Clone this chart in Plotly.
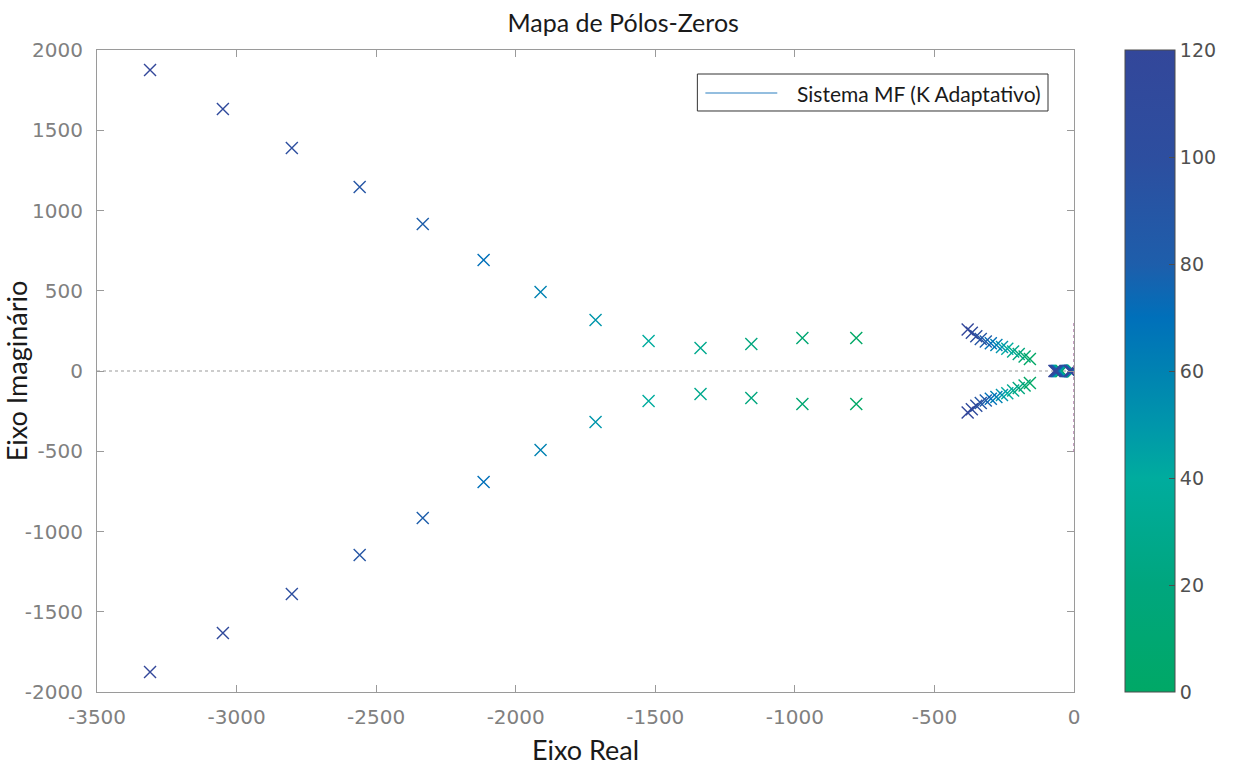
import plotly.graph_objects as go

# Gain values (one set of closed-loop poles per K)
K = [0, 10, 20, 30, 40, 50, 60, 70, 80, 90, 100, 110, 120]

# Dominant complex pair (upper half; lower is the conjugate)
big_re = [-780, -973, -1156, -1338, -1524, -1714, -1911, -2115, -2333, -2559, -2802, -3049, -3310]
big_im = [206, 206, 168, 143, 187, 318, 492, 692, 916, 1146, 1389, 1632, 1875]

# Secondary complex pair near the origin
small_re = [-158, -177, -198, -218, -239, -258, -278, -298, -316, -334, -350, -366, -381]
small_im = [75, 90, 106, 122, 138, 150, 162, 173, 184, 199, 216, 238, 258]

# Real poles close to the origin
real_a = [-44, -46, -48, -50, -52, -54, -56, -58, -60, -62, -64, -67, -70]
real_b = [-1, -2, -3, -4, -5, -6, -7, -8, -9, -10, -12, -14, -16]

# Tick values and labels
x_ticks = [-3500, -3000, -2500, -2000, -1500, -1000, -500, 0]
x_labels = ["-3500", "-3000", "-2500", "-2000", "-1500", "-1000", "-500", "0"]
y_ticks = [-2000, -1500, -1000, -500, 0, 500, 1000, 1500, 2000]
y_labels = ["-2000", "-1500", "-1000", "-500", "0", "500", "1000", "1500", "2000"]
cb_ticks = [0, 20, 40, 60, 80, 100, 120]

colorscale = [
    [0.0, "#00A866"],
    [0.167, "#00A67E"],
    [0.333, "#00AC9E"],
    [0.417, "#0096AB"],
    [0.5, "#0082B2"],
    [0.583, "#0070BA"],
    [0.667, "#1E5EAB"],
    [0.833, "#2D4E9F"],
    [1.0, "#33479A"],
]

xs, ys, cs = [], [], []
for i, k in enumerate(K):
    for re, im in [(big_re[i], big_im[i]), (big_re[i], -big_im[i]),
                   (small_re[i], small_im[i]), (small_re[i], -small_im[i]),
                   (real_a[i], 0), (real_b[i], 0)]:
        xs.append(re)
        ys.append(im)
        cs.append(k)

fig = go.Figure()

fig.add_trace(go.Scatter(
    x=xs, y=ys, mode="markers", showlegend=False, hoverinfo="x+y",
    marker=dict(
        symbol="x-thin", size=12,
        color=cs, colorscale=colorscale, cmin=0, cmax=120,
        line=dict(width=1.4, color=cs, colorscale=colorscale, cmin=0, cmax=120),
        showscale=True,
        colorbar=dict(
            x=1.051, xanchor="left", xref="paper",
            y=0.5, yanchor="middle", len=1.0, lenmode="fraction",
            thickness=50, thicknessmode="pixels",
            outlinewidth=1, outlinecolor="#4d4d4d",
            tickvals=cb_ticks,
            ticks="inside", ticklen=6, tickcolor="#4d4d4d",
            tickprefix=" ",
            tickfont=dict(family="DejaVu Sans", size=19, color="#505050"),
            xpad=0, ypad=0,
        ),
    ),
))

# Legend (box, line sample and label)
fig.add_shape(type="rect", xref="paper", yref="paper", x0=0.6145, x1=0.9734, y0=0.905, y1=0.9626,
              line=dict(color="#333333", width=1), fillcolor="white", layer="above")
fig.add_shape(type="line", xref="paper", yref="paper", x0=0.6227, x1=0.6963, y0=0.933, y1=0.933,
              line=dict(color="#2a7fc0", width=1.2), layer="above")
fig.add_annotation(xref="paper", yref="paper", x=0.7147, y=0.933, xanchor="left", yanchor="middle",
                   text="Sistema MF (K Adaptativo)", showarrow=False,
                   font=dict(family="Lato", size=21, color="#1a1a1a"))

# Axis reference lines
fig.add_shape(type="line", x0=-3500, x1=0, y0=0, y1=0, xref="x", yref="y",
              line=dict(color="#9a9a9a", width=1.2, dash="dot"), layer="below")
fig.add_shape(type="line", x0=0, x1=0, y0=-505, y1=318, xref="x", yref="y",
              line=dict(color="#b27fae", width=1.5, dash="dot"), layer="above")

axis_common = dict(
    showgrid=False, zeroline=False, showline=True, linecolor="#9a9a9a", linewidth=1.2,
    mirror="ticks", ticks="inside", ticklen=7, tickcolor="#9a9a9a", automargin=False,
    tickfont=dict(family="DejaVu Sans", size=20, color="#808080"),
)

fig.update_layout(
    width=1234, height=769,
    margin=dict(l=97, r=159, t=50, b=77),
    paper_bgcolor="white", plot_bgcolor="white",
    showlegend=False,
    title=dict(text="Mapa de Pólos-Zeros", x=0.505, xanchor="center", y=0.97, yanchor="middle",
               font=dict(family="Lato", size=25, color="#1a1a1a")),
    xaxis=dict(range=[-3500, 0], tickvals=x_ticks, ticktext=x_labels,
               ticklabelstandoff=7,
               title=dict(text="Eixo Real", font=dict(family="Lato", size=27, color="#1a1a1a"), standoff=13),
               **axis_common),
    yaxis=dict(range=[-2000, 2000], tickvals=y_ticks, ticktext=y_labels,
               ticklabelstandoff=9,
               title=dict(text="Eixo Imaginário", font=dict(family="Lato", size=27, color="#1a1a1a"), standoff=4),
               **axis_common),
)

fig.write_html("out.html")
